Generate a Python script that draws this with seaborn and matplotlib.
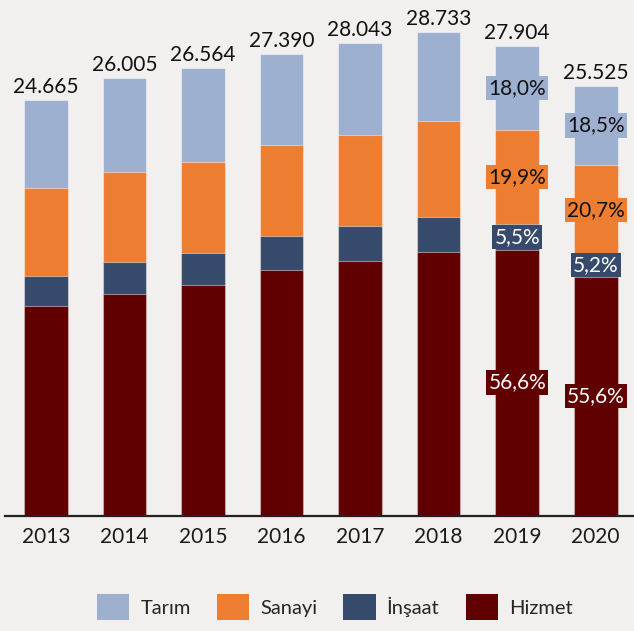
import numpy as np
import pandas as pd
import matplotlib
matplotlib.use("Agg")
import matplotlib.pyplot as plt
import seaborn as sns
from matplotlib.patches import Patch

# ---- data (thousand persons) ----
years = ["2013", "2014", "2015", "2016", "2017", "2018", "2019", "2020"]
totals = [24665, 26005, 26564, 27390, 28043, 28733, 27904, 25525]
hizmet = [12465, 13156, 13709, 14561, 15136, 15666, 15793, 14192]
insaat = [1764, 1883, 1883, 2049, 2079, 2043, 1535, 1327]
sanayi = [5209, 5381, 5423, 5405, 5405, 5702, 5553, 5284]
tarim = [5227, 5585, 5549, 5375, 5423, 5322, 5023, 4722]
total_labels = ["24.665", "26.005", "26.564", "27.390", "28.043", "28.733", "27.904", "25.525"]

pct_years = ["2019", "2020"]
pct_tarim = ["18,0%", "18,5%"]
pct_sanayi = ["19,9%", "20,7%"]
pct_insaat = ["5,5%", "5,2%"]
pct_hizmet = ["56,6%", "55,6%"]

series_names = ["Tarım", "Sanayi", "İnşaat", "Hizmet"]
colors = {"Tarım": "#9DB0CF", "Sanayi": "#ED7D31", "İnşaat": "#364B6B", "Hizmet": "#600000"}

df = pd.DataFrame({"year": years, "Hizmet": hizmet, "İnşaat": insaat,
                   "Sanayi": sanayi, "Tarım": tarim})
df["c_hizmet"] = df["Hizmet"]
df["c_insaat"] = df["c_hizmet"] + df["İnşaat"]
df["c_sanayi"] = df["c_insaat"] + df["Sanayi"]
df["c_tarim"] = df["c_sanayi"] + df["Tarım"]

sns.set_theme(style="white")
plt.rcParams["font.family"] = ["Lato", "DejaVu Sans"]

bg = "#F2F0EF"
fig = plt.figure(figsize=(6.34, 6.31), dpi=100, facecolor=bg)
ax = fig.add_axes([5 / 634, (631 - 515.5) / 631, 629 / 634, 515.5 / 631])
ax.set_facecolor(bg)

edge = (1, 1, 1, 0.45)
for col, name in [("c_tarim", "Tarım"), ("c_sanayi", "Sanayi"),
                  ("c_insaat", "İnşaat"), ("c_hizmet", "Hizmet")]:
    sns.barplot(data=df, x="year", y=col, color=colors[name], width=0.556,
                saturation=1, edgecolor=edge, linewidth=0.8, ax=ax, errorbar=None)

ax.set_xlim(-0.519, 7.487)
ax.set_ylim(0, 30619)
ax.set_xlabel("")
ax.set_ylabel("")
ax.set_yticks([])
for s in ["left", "right", "top"]:
    ax.spines[s].set_visible(False)
ax.spines["bottom"].set_color("#222222")
ax.spines["bottom"].set_linewidth(1.6)
ax.tick_params(axis="x", length=0, pad=8, labelsize=15, labelcolor="#1a1a1a")

# totals above bars
for i, (t, lab) in enumerate(zip(totals, total_labels)):
    ax.annotate(lab, xy=(i, t), xytext=(0, 7), textcoords="offset pixels",
                ha="center", va="baseline", fontsize=15, color="#111111")

# percentage labels
pos = {y: i for i, y in enumerate(years)}
for j, yr in enumerate(pct_years):
    i = pos[yr]
    row = df.iloc[i]
    segs = [
        (row["c_sanayi"] + row["Tarım"] / 2, pct_tarim[j], "Tarım", "#111111"),
        (row["c_insaat"] + row["Sanayi"] / 2, pct_sanayi[j], "Sanayi", "#111111"),
        (row["c_hizmet"] + row["İnşaat"] / 2, pct_insaat[j], "İnşaat", "white"),
        (row["Hizmet"] / 2, pct_hizmet[j], "Hizmet", "white"),
    ]
    for yv, txt, name, tc in segs:
        ax.text(i, yv, txt, ha="center", va="center", fontsize=15, color=tc,
                bbox=dict(boxstyle="square,pad=0.1", fc=colors[name], ec="none"))

handles = [Patch(facecolor=colors[n], edgecolor="none") for n in series_names]
fig.legend(handles, series_names, loc="center", bbox_to_anchor=(0.528, 1 - 607 / 631),
           ncol=4, frameon=False, fontsize=14.5, handlelength=1.6, handleheight=1.6,
           handletextpad=0.55, columnspacing=1.3)

fig.savefig("out.png", dpi=100, facecolor=bg)
